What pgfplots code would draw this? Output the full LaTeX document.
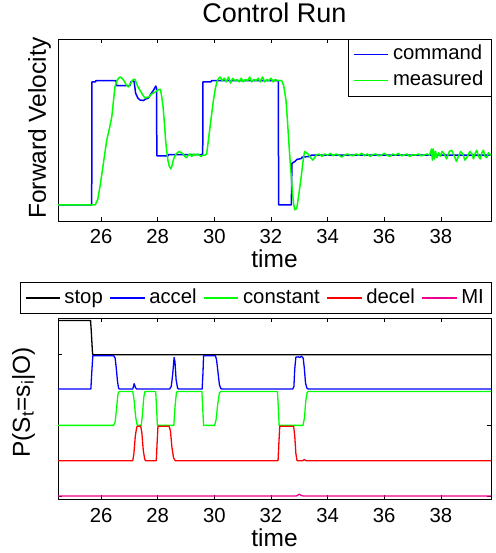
\documentclass[border=0pt]{standalone}
\usepackage{fontspec}
\setmainfont{Liberation Sans}
\usepackage{pgfplots}
\pgfplotsset{compat=1.18}

\pgfplotsset{
  myaxis/.style={
    scale only axis,
    width=433pt,
    xmin=24.48, xmax=39.77,
    xtick={26,28,30,32,34,36,38},
    axis line style={black, line width=0.9pt},
    every tick/.style={black, line width=0.7pt},
    major tick length=4.3pt,
    /pgf/number format/assume math mode=true,
    tick label style={font=\fontsize{20.3}{24}\selectfont},
    xticklabel style={anchor=base, yshift=-23pt},
    label style={font=\fontsize{24.5}{28}\selectfont},
    xlabel style={at={(axis description cs:0.5,0)}, anchor=base, yshift=-47pt},
    legend cell align=left,
  },
}

\begin{document}
\begin{tikzpicture}
\useasboundingbox (0,0) rectangle (495pt,553pt);

% ---------------- top axis ----------------
\begin{axis}[myaxis,
  at={(58pt,332pt)}, anchor=south west,
  height=182pt,
  ymin=-0.13, ymax=1.336,
  ytick=\empty,
  title={Control Run},
  every axis title shift=0pt,
  title style={font=\fontsize{27}{30}\selectfont, at={(axis description cs:0.5,1)}, anchor=base, yshift=16pt},
  xlabel={time},
  ylabel={Forward Velocity},
  ylabel style={rotate=0, at={(axis description cs:-0.028,0.51)}, anchor=base},
  legend image post style={xscale=2, line width=1.5pt},
  legend style={at={(axis description cs:1,1)}, anchor=north east, draw=black,
    fill=white, font=\fontsize{20.3}{24}\selectfont,
    inner xsep=5.5pt, inner ysep=3pt,
    nodes={inner xsep=2pt, inner ysep=3pt, text height=14.7pt, text depth=4.2pt},
    row sep=1pt,
    /tikz/every odd column/.append style={column sep=2pt}},
]
\addplot[blue, line width=1.5pt, line join=round] coordinates {
(24.48,0) (25.67,0) (25.68,0.99) (25.80,0.99) (25.82,1.0) (26.53,1.0) (26.55,0.96)
(27.02,0.96) (27.05,0.99) (27.14,1.0) (27.17,0.99) (27.22,0.90) (27.30,0.86)
(27.37,0.845) (27.49,0.84) (27.60,0.855) (27.67,0.86) (27.78,0.90) (27.87,0.93)
(27.93,0.957) (27.96,0.94) (27.97,0.395) (28.37,0.395) (28.38,0.405) (29.59,0.405)
(29.60,0.99) (29.88,0.99) (29.90,1.0) (32.26,1.0) (32.27,0) (32.72,0) (32.74,0.334)
(32.85,0.35) (32.92,0.366) (33.08,0.374) (33.10,0.385) (33.38,0.39) (33.42,0.40) (39.77,0.40)
};
\addlegendentry{command}
\addplot[green, line width=1.5pt, line join=round] coordinates {
(24.48,0) (25.79,0) (25.88,0.04) (25.96,0.145) (26.08,0.33) (26.20,0.52) (26.30,0.62)
(26.38,0.71) (26.44,0.84) (26.49,0.95) (26.58,1.01) (26.67,1.03) (26.74,1.02) (26.81,1.00)
(26.88,0.97) (26.96,0.95) (27.02,0.97) (27.08,0.99) (27.14,1.01) (27.20,1.01) (27.28,0.96)
(27.37,0.925) (27.46,0.89) (27.55,0.86) (27.62,0.865) (27.70,0.87) (27.77,0.89) (27.84,0.90)
(27.92,0.91) (27.98,0.92) (28.05,0.93) (28.10,0.93) (28.15,0.86) (28.19,0.79) (28.24,0.65)
(28.28,0.52) (28.32,0.43) (28.36,0.36) (28.41,0.31) (28.46,0.29) (28.50,0.31) (28.55,0.36)
(28.60,0.39) (28.65,0.41) (28.70,0.42) (28.76,0.43) (28.83,0.42) (28.90,0.41) (28.96,0.39)
(29.02,0.38) (29.08,0.40) (29.14,0.41) (29.20,0.39) (29.27,0.41) (29.33,0.40) (29.40,0.41)
(29.47,0.40) (29.53,0.39) (29.60,0.40) (29.67,0.40) (29.73,0.41) (29.79,0.52) (29.85,0.63)
(29.91,0.74) (29.97,0.845) (30.03,0.93) (30.09,0.99) (30.15,1.02) (30.20,1.03)
(30.28,1.00) (30.35,1.02) (30.42,0.99) (30.50,1.03) (30.57,0.98) (30.65,1.02) (30.72,1.00)
(30.80,1.01) (30.88,0.99) (30.95,1.02) (31.02,0.99) (31.10,1.01) (31.18,1.00) (31.25,1.03)
(31.32,0.99) (31.40,1.01) (31.48,1.00) (31.55,1.02) (31.62,0.99) (31.70,1.03) (31.78,0.99)
(31.85,1.01) (31.92,1.00) (32.00,1.02) (32.08,0.99) (32.15,1.01) (32.25,1.00) (32.38,1.00)
(32.45,0.96) (32.53,0.845) (32.57,0.72) (32.61,0.58) (32.65,0.44) (32.69,0.31) (32.73,0.19)
(32.76,0.09) (32.80,0.01) (32.84,-0.04) (32.88,-0.035) (32.92,-0.015) (32.97,0.06) (33.02,0.145)
(33.07,0.23) (33.11,0.31) (33.15,0.38) (33.19,0.43) (33.25,0.42) (33.31,0.41) (33.40,0.38)
(33.48,0.36) (33.54,0.38) (33.60,0.40)
(33.70,0.41) (33.80,0.39) (33.90,0.41) (34.00,0.40) (34.10,0.415) (34.20,0.395) (34.30,0.41)
(34.40,0.40) (34.50,0.385) (34.60,0.40) (34.70,0.41) (34.80,0.40) (34.90,0.395) (35.00,0.41)
(35.10,0.40) (35.20,0.415) (35.30,0.395) (35.40,0.41) (35.50,0.39) (35.60,0.405) (35.70,0.41)
(35.80,0.395) (35.90,0.40) (36.00,0.415) (36.10,0.40) (36.20,0.39) (36.30,0.41) (36.40,0.40)
(36.50,0.415) (36.60,0.395) (36.70,0.40) (36.80,0.41) (36.90,0.39) (37.00,0.405) (37.10,0.40)
(37.20,0.41) (37.30,0.395) (37.40,0.40) (37.50,0.41) (37.60,0.40)
(37.67,0.45) (37.70,0.36) (37.73,0.45) (37.77,0.37) (37.81,0.43) (37.86,0.38) (37.92,0.42)
(37.98,0.39) (38.04,0.43) (38.12,0.41) (38.20,0.37) (38.30,0.43) (38.38,0.44) (38.46,0.40)
(38.55,0.35) (38.62,0.39) (38.70,0.43) (38.77,0.41) (38.85,0.36) (38.94,0.39) (39.02,0.43)
(39.10,0.41) (39.15,0.37) (39.22,0.42) (39.27,0.44) (39.33,0.39) (39.39,0.37) (39.45,0.42)
(39.50,0.44) (39.56,0.39) (39.62,0.38) (39.68,0.42) (39.74,0.40) (39.77,0.41)
};
\addlegendentry{measured}
\end{axis}

% ---------------- bottom axis ----------------
\begin{axis}[myaxis,
  at={(58pt,53.7pt)}, anchor=south west,
  height=181.3pt,
  ymin=-0.094, ymax=5.04,
  ytick={0,2,4}, yticklabels={},
  xlabel={time},
  ylabel={P(S\textsubscript{t}=s\textsubscript{i}|O)},
  ylabel style={rotate=0, at={(axis description cs:-0.065,0.535)}, anchor=base},
  legend columns=5,
  legend image post style={xscale=2, line width=1.3pt},
  legend style={at={(axis description cs:1,1)}, anchor=south east, yshift=4.3pt,
    draw=black,
    fill=white, font=\fontsize{20.3}{24}\selectfont,
    inner xsep=5pt, inner ysep=3pt,
    nodes={inner xsep=2pt, inner ysep=3pt, text height=14.7pt, text depth=4.2pt},
    /tikz/every odd column/.append style={column sep=2pt},
    /tikz/every even column/.append style={column sep=5pt}},
]
\addplot[black, line width=1.3pt, line join=round] coordinates {
(24.48,4.97) (25.63,4.97) (25.66,4.6) (25.70,4.02) (25.74,4.0) (39.77,4.0)
};
\addlegendentry{stop}
\addplot[blue, line width=1.3pt, line join=round] coordinates {
(24.48,3.03) (25.64,3.03) (25.68,3.6) (25.71,3.97) (26.45,3.97) (26.50,3.90) (26.54,3.6)
(26.58,3.25) (26.62,3.05) (26.65,3.03) (27.12,3.03) (27.17,3.18) (27.22,3.06) (27.26,3.03)
(28.42,3.03) (28.48,3.10) (28.53,3.45) (28.58,3.92) (28.61,3.80) (28.65,3.3) (28.70,3.06)
(28.74,3.03) (29.57,3.03) (29.60,3.5) (29.62,3.97) (30.04,3.97) (30.08,3.85) (30.13,3.5)
(30.18,3.15) (30.23,3.04) (30.27,3.03) (32.77,3.03) (32.81,3.10) (32.84,3.6) (32.88,3.93)
(32.97,3.94) (33.02,3.92) (33.08,3.96) (33.14,3.90) (33.18,3.6) (33.22,3.2) (33.27,3.05)
(33.32,3.03) (39.77,3.03)
};
\addlegendentry{accel}
\addplot[green, line width=1.3pt, line join=round] coordinates {
(24.48,2.0) (26.45,2.0) (26.50,2.10) (26.55,2.5) (26.60,2.90) (26.64,2.96) (27.12,2.96)
(27.17,2.7) (27.22,2.25) (27.27,2.02) (27.29,2.0) (27.42,2.0) (27.46,2.3) (27.51,2.8)
(27.55,2.96) (27.93,2.96) (27.96,2.5) (27.99,2.0) (28.57,2.0) (28.61,2.5) (28.66,2.92)
(28.69,2.96) (29.56,2.96) (29.59,2.5) (29.62,2.0) (30.01,2.0) (30.06,2.15) (30.12,2.6)
(30.18,2.92) (30.23,2.96) (32.23,2.96) (32.26,2.5) (32.29,2.0) (33.13,2.0) (33.18,2.2)
(33.23,2.7) (33.28,2.94) (33.32,2.96) (39.77,2.96)
};
\addlegendentry{constant}
\addplot[red, line width=1.3pt, line join=round] coordinates {
(24.48,1.0) (27.12,1.0) (27.16,1.2) (27.21,1.7) (27.26,1.95) (27.30,1.977) (27.40,1.977)
(27.44,1.8) (27.49,1.3) (27.54,1.05) (27.57,1.0) (27.95,1.0) (27.98,1.5) (28.01,1.977)
(28.40,1.977) (28.45,1.85) (28.50,1.4) (28.56,1.08) (28.62,1.0) (32.25,1.0) (32.28,1.5)
(32.31,1.977) (32.80,1.977) (32.84,1.7) (32.88,1.2) (32.92,1.0) (33.12,1.0) (33.18,1.03)
(33.24,1.0) (39.77,1.0)
};
\addlegendentry{decel}
\addplot[magenta, line width=1.3pt, line join=round] coordinates {
(24.48,0.0) (32.90,0.0) (33.00,0.05) (33.08,0.01) (33.15,0.0) (39.77,0.0)
};
\addlegendentry{MI}
\end{axis}
\end{tikzpicture}
\end{document}
